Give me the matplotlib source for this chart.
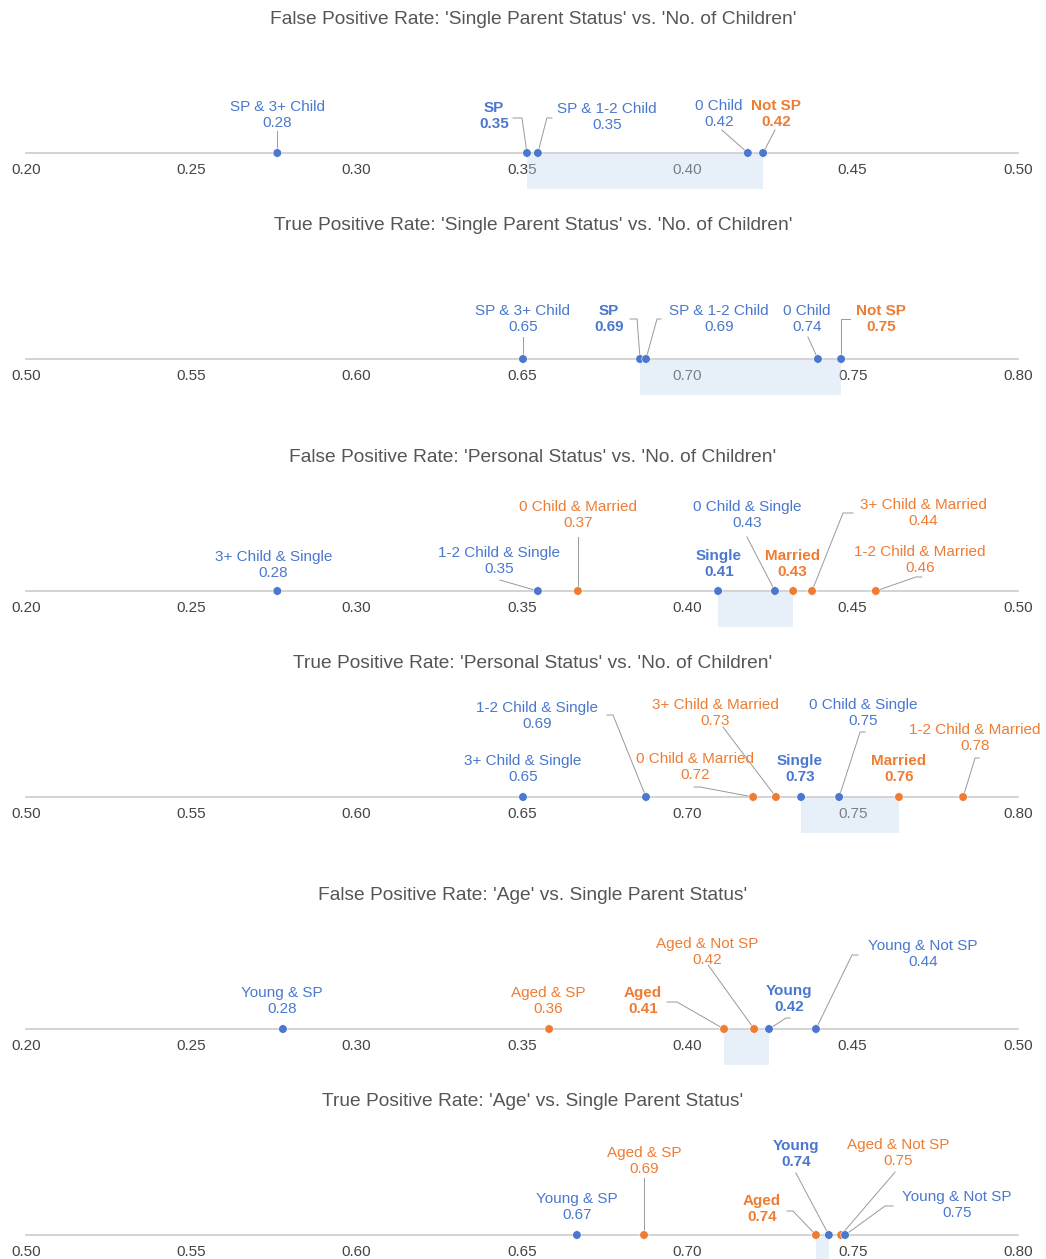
import numpy as np
import matplotlib.pyplot as plt
from matplotlib.patches import Rectangle

plt.rcParams['font.family'] = ['Liberation Sans', 'DejaVu Sans']

FIG_W, FIG_H = 1046, 1259
AX_LEFT, AX_WIDTH = 26, 992
BLUE = '#4a78cf'
ORANGE = '#ee7d33'
GRID = '#cccccc'
LEADER = '#999999'

titles = [
    "False Positive Rate: 'Single Parent Status' vs. 'No. of Children'",
    "True Positive Rate: 'Single Parent Status' vs. 'No. of Children'",
    "False Positive Rate: 'Personal Status' vs. 'No. of Children'",
    "True Positive Rate: 'Personal Status' vs. 'No. of Children'",
    "False Positive Rate: 'Age' vs. Single Parent Status'",
    "True Positive Rate: 'Age' vs. Single Parent Status'",
]
x_ranges = [(0.20, 0.50), (0.50, 0.80), (0.20, 0.50), (0.50, 0.80), (0.20, 0.50), (0.50, 0.80)]

# panel 1 / 2: single parent status vs number of children
sp_names = ["SP & 3+ Child", "SP", "SP & 1-2 Child", "0 Child", "Not SP"]
sp_groups = ["A", "A", "A", "A", "B"]
sp_main = ["SP", "Not SP"]
fpr_sp_values = [0.276, 0.3515, 0.3548, 0.4183, 0.4229]
tpr_sp_values = [0.6503, 0.6857, 0.6875, 0.7395, 0.7465]

# panel 3: personal status vs number of children (FPR)
fpr_ps_names = ["3+ Child & Single", "1-2 Child & Single", "0 Child & Married", "Single",
                "0 Child & Single", "Married", "3+ Child & Married", "1-2 Child & Married"]
fpr_ps_groups = ["A", "A", "B", "A", "A", "B", "B", "B"]
fpr_ps_values = [0.276, 0.3548, 0.3669, 0.4093, 0.4265, 0.432, 0.4377, 0.457]

# panel 4: personal status vs number of children (TPR)
tpr_ps_names = ["3+ Child & Single", "1-2 Child & Single", "0 Child & Married", "3+ Child & Married",
                "Single", "0 Child & Single", "Married", "1-2 Child & Married"]
tpr_ps_groups = ["A", "A", "B", "B", "A", "A", "B", "B"]
tpr_ps_values = [0.6503, 0.6875, 0.7199, 0.7268, 0.7344, 0.7459, 0.764, 0.7834]
ps_main = ["Single", "Married"]

# panel 5: age vs single parent status (FPR)
fpr_age_names = ["Young & SP", "Aged & SP", "Aged", "Aged & Not SP", "Young", "Young & Not SP"]
fpr_age_groups = ["A", "B", "B", "B", "A", "A"]
fpr_age_values = [0.2777, 0.3582, 0.4111, 0.4202, 0.4247, 0.4389]

# panel 6: age vs single parent status (TPR)
tpr_age_names = ["Young & SP", "Aged & SP", "Aged", "Young", "Aged & Not SP", "Young & Not SP"]
tpr_age_groups = ["A", "B", "B", "A", "B", "A"]
tpr_age_values = [0.6666, 0.6869, 0.7389, 0.7428, 0.7465, 0.7477]
age_main = ["Young", "Aged"]

# label layout: (dx px, dy px above line, leader points relative to the dot)
layouts = [
    [(0, 38, [(0, 22)]), (-33, 37, [(-14, 35), (-5, 35)]), (69, 36, [(14, 35), (9, 35)]),
     (-29, 39, [(-26, 23)]), (13, 39, [(12, 23)])],
    [(0, 40, [(0, 22)]), (-31, 40, [(-10, 40), (-3, 40)]), (73, 40, [(15, 40), (11, 40)]),
     (-11, 40, [(-10, 22)]), (40, 40, [(9, 40), (0, 40)])],
    [(-4, 26, []), (-39, 30, [(-38, 11)]), (0, 76, [(0, 54)]), (1, 27, []),
     (-28, 76, [(-28, 54)]), (-1, 27, []), (111, 78, [(41, 78), (31, 78)]),
     (44, 31, [(46, 14), (40, 14)])],
    [(0, 28, []), (-109, 81, [(-39, 82), (-33, 82)]), (-58, 30, [(-59, 10), (-53, 10)]),
     (-61, 84, [(-53, 70)]), (-1, 28, []), (24, 84, [(26, 65), (21, 65)]), (0, 28, []),
     (12, 59, [(16, 39), (12, 39)])],
    [(-1, 28, []), (-1, 28, []), (-81, 28, [(-57, 27), (-47, 27)]), (-47, 77, [(-46, 64)]),
     (20, 30, [(21, 11), (17, 11)]), (107, 75, [(42, 74), (36, 74)])],
    [(0, 28, []), (0, 74, [(0, 57)]), (-54, 26, [(-29, 24), (-23, 24)]), (-33, 81, [(-33, 62)]),
     (57, 82, [(54, 63)]), (112, 30, [(48, 29), (40, 29)])],
]

panels = [
    (sp_names, fpr_sp_values, sp_groups, sp_main, False),
    (sp_names, tpr_sp_values, sp_groups, sp_main, False),
    (fpr_ps_names, fpr_ps_values, fpr_ps_groups, ps_main, True),
    (tpr_ps_names, tpr_ps_values, tpr_ps_groups, ps_main, True),
    (fpr_age_names, fpr_age_values, fpr_age_groups, age_main, True),
    (tpr_age_names, tpr_age_values, tpr_age_groups, age_main, True),
]
line_ys = [153, 359, 591, 797, 1029, 1235]

fig = plt.figure(figsize=(FIG_W / 100, FIG_H / 100), dpi=100)

for k, (names, values, groups, main, color_dots) in enumerate(panels):
    line_y = line_ys[k]
    lo, hi = x_ranges[k]
    ax = fig.add_axes([AX_LEFT / FIG_W, 1 - (line_y + 40) / FIG_H, AX_WIDTH / FIG_W, 190 / FIG_H])
    ax.set_xlim(lo, hi)
    ax.set_ylim(-40, 150)
    ax.patch.set_visible(False)
    px = (hi - lo) / AX_WIDTH

    for s in ['top', 'left', 'right']:
        ax.spines[s].set_visible(False)
    ax.spines['bottom'].set_position(('data', 0))
    ax.spines['bottom'].set_color(GRID)
    ax.spines['bottom'].set_linewidth(1.2)
    ax.set_yticks([])
    ticks = np.round(np.arange(lo, hi + 1e-9, 0.05), 2)
    ax.set_xticks(ticks)
    ax.set_xticklabels([f"{t:.2f}" for t in ticks])
    ax.tick_params(axis='x', length=0, pad=7.5, labelsize=11, labelcolor='#444444')

    # band between the two main groups
    main_vals = [values[names.index(m)] for m in main]
    b0, b1 = min(main_vals), max(main_vals)
    ax.add_patch(Rectangle((b0, -36), b1 - b0, 36, facecolor='#c5d9f0', alpha=0.4,
                           linewidth=0, zorder=3))

    text_cols = [BLUE if g == "A" else ORANGE for g in groups]
    dot_cols = text_cols if color_dots else [BLUE] * len(values)
    ax.scatter(values, np.zeros(len(values)), s=38, c=dot_cols, zorder=5,
               edgecolors='white', linewidths=0.4)

    for i, (name, v) in enumerate(zip(names, values)):
        dx, dy, leader = layouts[k][i]
        bold = name in main
        ax.text(v + dx * px, dy, f"{name}\n{v:.2f}", ha='center', va='center',
                fontsize=11, color=text_cols[i], fontweight='bold' if bold else 'normal',
                linespacing=1.2, zorder=6)
        if leader:
            xs = [v + p[0] * px for p in leader] + [v]
            ys = [p[1] for p in leader] + [0]
            ax.plot(xs, ys, color=LEADER, lw=0.7, zorder=4)

    fig.text(533 / FIG_W, 1 - (line_y - 133) / FIG_H, titles[k], ha='center', va='center',
             fontsize=13.8, color='#555555')

fig.savefig("out.png", dpi=100)
